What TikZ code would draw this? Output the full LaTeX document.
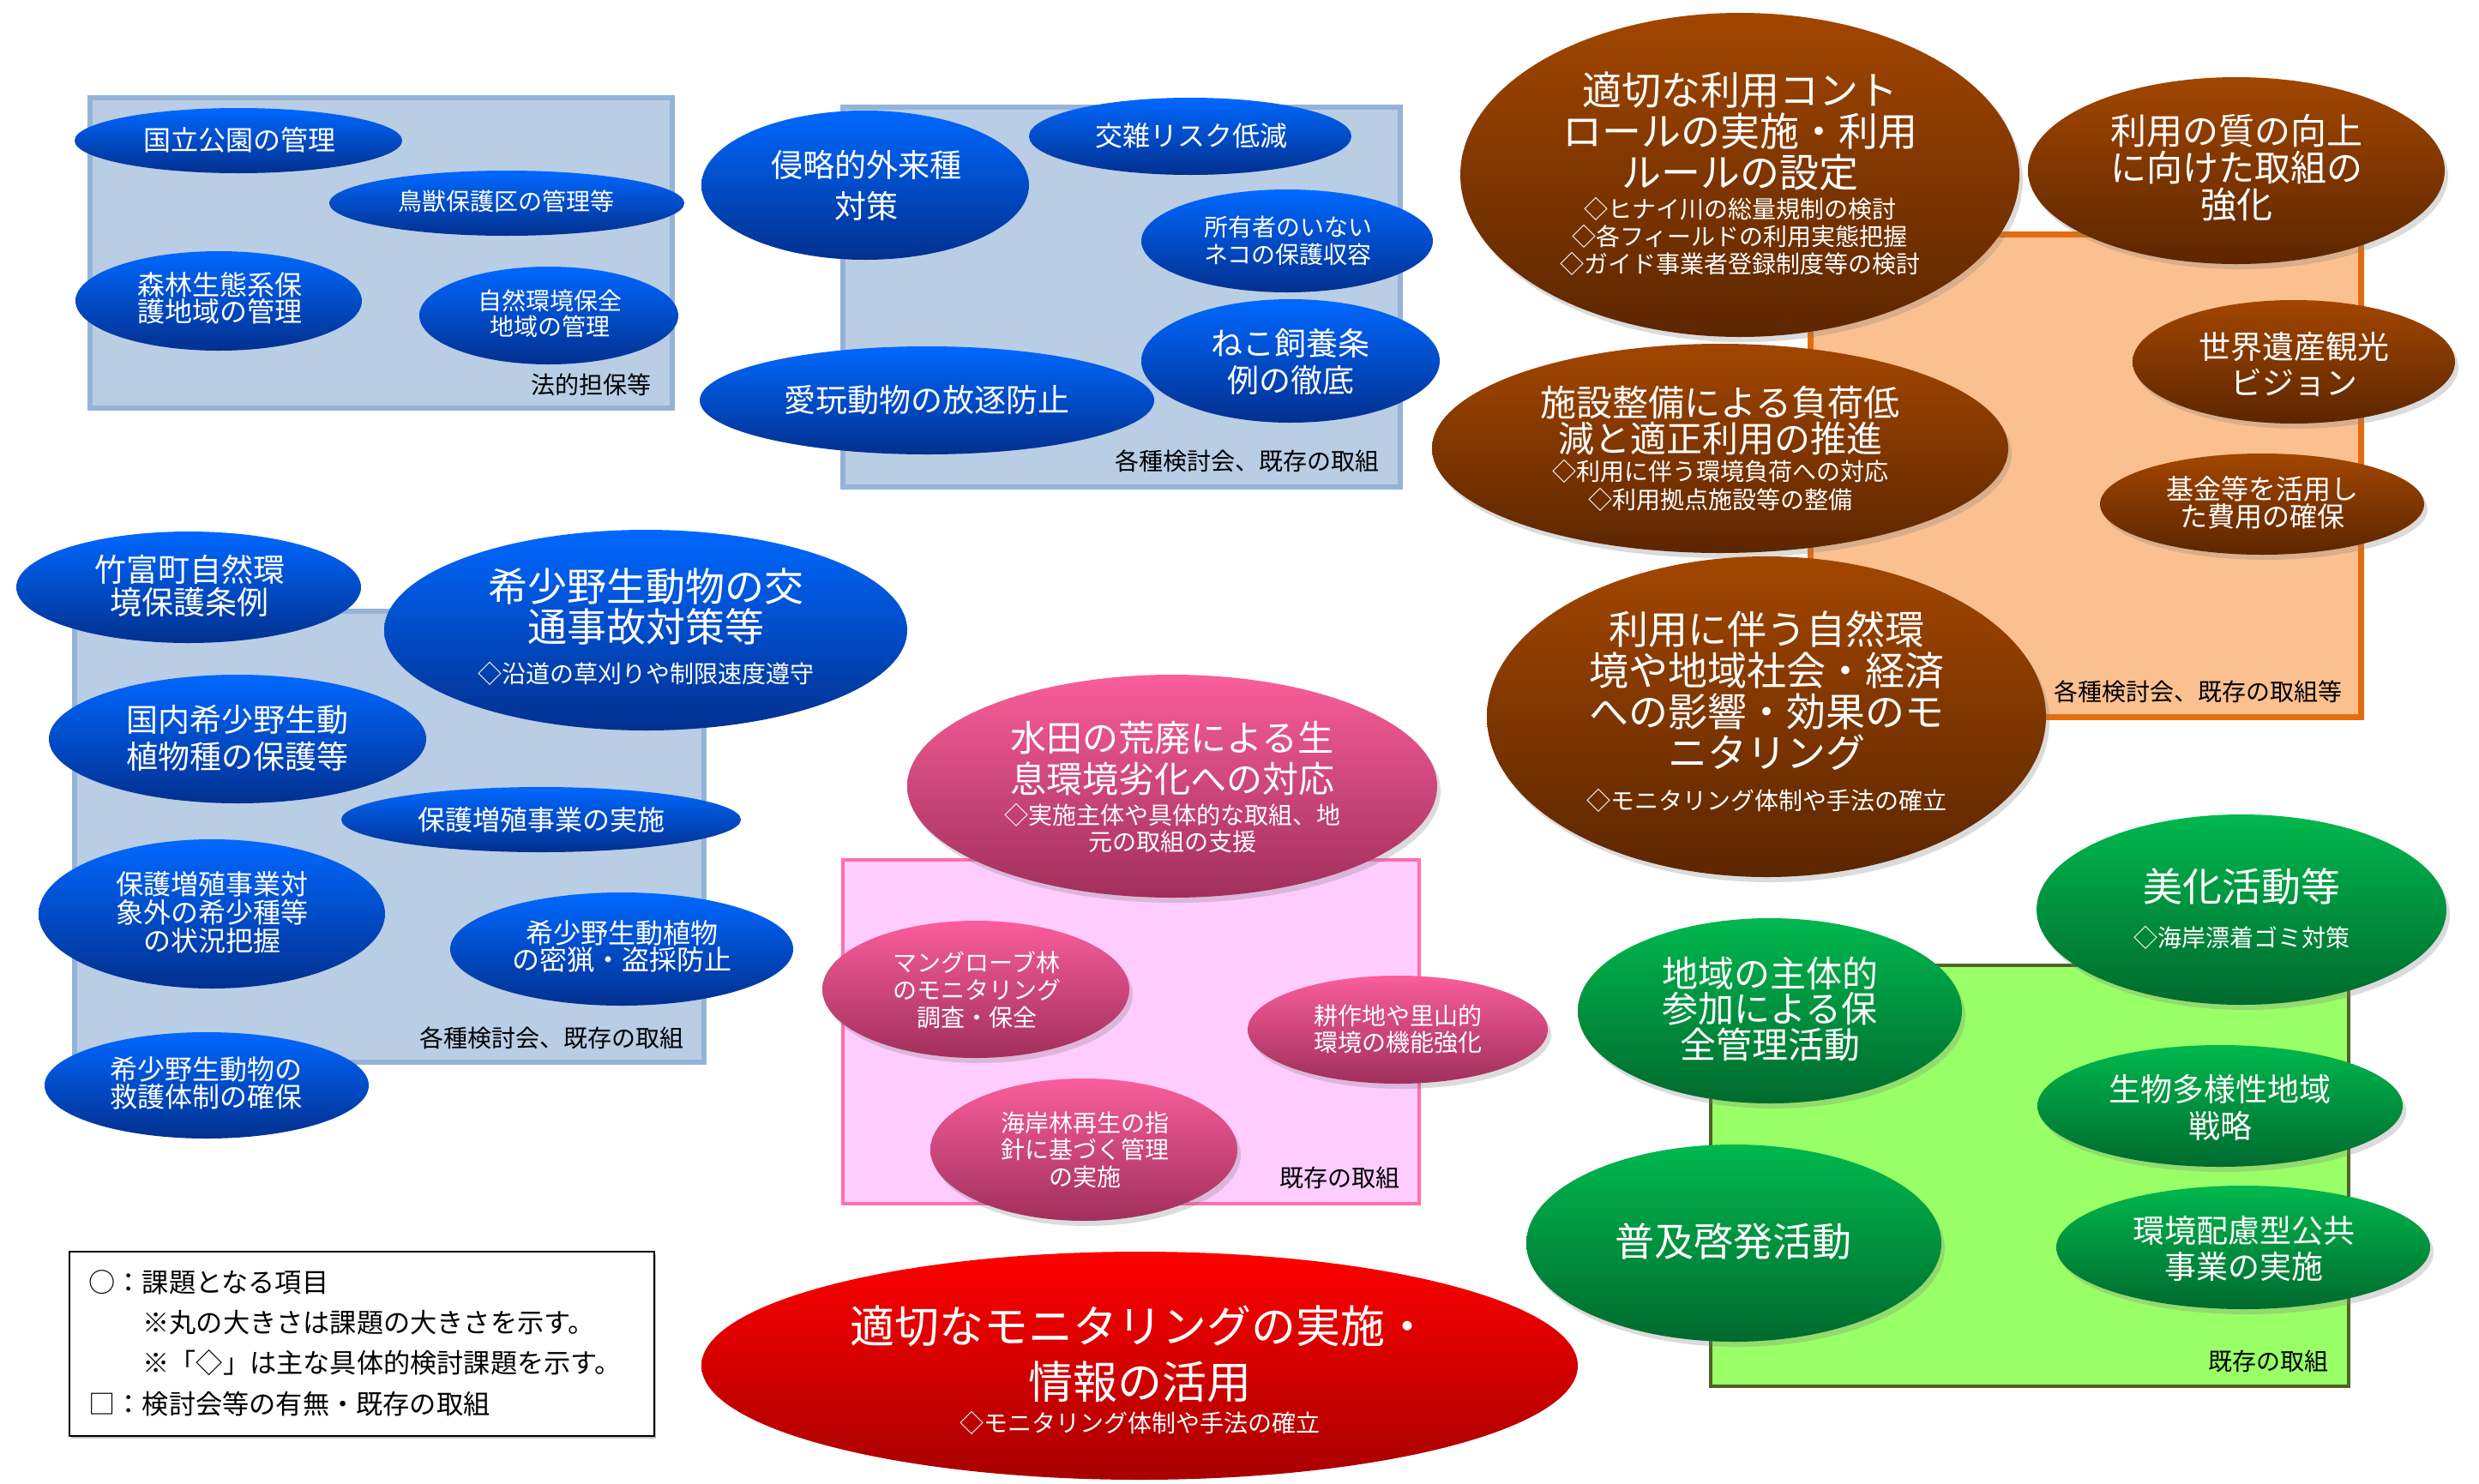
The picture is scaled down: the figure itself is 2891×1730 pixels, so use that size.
\documentclass[tikz,border=0pt]{standalone}
\usepackage{fontspec}
\setmainfont{Noto Sans CJK JP}
\usetikzlibrary{shapes.geometric,shadows}
\definecolor{blueTop}{HTML}{0068FF}
\definecolor{blueBot}{HTML}{02308F}
\definecolor{brownTop}{HTML}{A24600}
\definecolor{brownBot}{HTML}{5C2600}
\definecolor{pinkTop}{HTML}{FA5E9A}
\definecolor{pinkBot}{HTML}{A02F5C}
\definecolor{greenTop}{HTML}{00B84E}
\definecolor{greenBot}{HTML}{006A2E}
\definecolor{redTop}{HTML}{FF0000}
\definecolor{redBot}{HTML}{A80000}
\definecolor{bxBlue}{HTML}{B9CDE5}
\definecolor{bxBlueL}{HTML}{95B3D7}
\definecolor{bxOrange}{HTML}{FAC090}
\definecolor{bxOrangeL}{HTML}{E46C0A}
\definecolor{bxPink}{HTML}{FFCCFF}
\definecolor{bxPinkL}{HTML}{FF6FA8}
\definecolor{bxGreen}{HTML}{99FF66}
\definecolor{bxGreenL}{HTML}{4F6228}
\begin{document}
\begin{tikzpicture}[x=0.5pt,y=-0.5pt,
  ell/.style 2 args={ellipse, inner sep=0pt, minimum width=#1pt, minimum height=#2pt},
  shd/.style={drop shadow={opacity=0.28, shadow xshift=2pt, shadow yshift=-3pt}},
  blueE/.style={top color=blueTop, bottom color=blueBot},
  brownE/.style={top color=brownTop, bottom color=brownBot, shd},
  pinkE/.style={top color=pinkTop, bottom color=pinkBot, shd},
  greenE/.style={top color=greenTop, bottom color=greenBot, shd},
  redE/.style={top color=redTop, bottom color=redBot},
  wt/.style={text=white, align=center, inner sep=0pt},
  ft/.style 2 args={font=\fontsize{#1pt}{#2pt}\selectfont},
  lbl/.style={text=black, anchor=east, inner sep=0pt, font=\fontsize{14pt}{16pt}\selectfont},
  lg/.style={text=black, anchor=west, inner sep=0pt, font=\fontsize{15.6pt}{18pt}\selectfont},
  boxblue/.style={fill=bxBlue, draw=bxBlueL, line width=3pt},
  boxorange/.style={fill=bxOrange, draw=bxOrangeL, line width=3.5pt},
  boxpink/.style={fill=bxPink, draw=bxPinkL, line width=2.4pt},
  boxgreen/.style={fill=bxGreen, draw=bxGreenL, line width=2.4pt},
  legendbox/.style={fill=white, draw=black, line width=1.1pt, drop shadow={opacity=0.45, shadow xshift=1pt, shadow yshift=-1.5pt}}
]
\useasboundingbox[fill=white] (0,0) rectangle (2891,1730);

% ---------- boxes ----------
\draw[boxblue] (105,114) rectangle (784,476);
\draw[boxblue] (983,125) rectangle (1633,568);
\draw[boxorange] (2111,273) rectangle (2753,836);
\draw[boxblue] (87,713) rectangle (821,1239);
\draw[boxpink] (983,1003) rectangle (1655,1404);
\draw[boxgreen] (1995,1126) rectangle (2739,1617);
\draw[legendbox] (81,1460) rectangle (763,1675);

% ---------- box labels ----------
\node[lbl] (lA) at (760,449) {法的担保等};
\node[lbl] (lB) at (1609,538) {各種検討会、既存の取組};
\node[lbl] (lC) at (2732,807) {各種検討会、既存の取組等};
\node[lbl] (lD) at (798,1211) {各種検討会、既存の取組};
\node[lbl] (lE) at (1633,1374) {既存の取組};
\node[lbl] (lF) at (2716,1588) {既存の取組};

% ---------- group A (blue, top left) ----------
\node[ell={191}{38}, blueE] (nA1) at (278,164) {};
\node[wt, ft={16}{16}] (tA1) at (279,163) {国立公園の管理};
\node[ell={207}{38}, blueE] (nA2) at (591,237) {};
\node[wt, ft={14}{16}] (tA2) at (590,235) {鳥獣保護区の管理等};
\node[ell={167}{58}, blueE] (nA3) at (255,351) {};
\node[wt, ft={16}{15.5}] (tA3) at (256,348) {森林生態系保\\護地域の管理};
\node[ell={151}{57}, blueE] (nA4) at (640,368) {};
\node[wt, ft={14}{15}] (tA4) at (641,366) {自然環境保全\\地域の管理};

% ---------- group B (blue, top middle) ----------
\node[ell={191}{87}, blueE] (nB1) at (1009,216) {};
\node[wt, ft={18.5}{24}] (tB1) at (1010,216) {侵略的外来種\\対策};
\node[ell={188}{45}, blueE] (nB2) at (1388,159) {};
\node[wt, ft={16}{16}] (tB2) at (1389,158) {交雑リスク低減};
\node[ell={170}{60}, blueE] (nB3) at (1501,281) {};
\node[wt, ft={14}{16}] (tB3) at (1502,281) {所有者のいない\\ネコの保護収容};
\node[ell={174}{72}, blueE] (nB4) at (1505,421) {};
\node[wt, ft={18.5}{21.5}] (tB4) at (1505,422) {ねこ飼養条\\例の徹底};
\node[ell={265}{63}, blueE] (nB5) at (1081,467) {};
\node[wt, ft={18.5}{20}] (tB5) at (1081,467) {愛玩動物の放逐防止};

% ---------- group C (brown, top right) ----------
\node[ell={326}{189}, brownE] (nC1) at (2029,204) {};
\node[wt, ft={23}{24}] (tC1) at (2029,153) {適切な利用コント\\ロールの実施・利用\\ルールの設定};
\node[wt, ft={14}{16}] (sC1) at (2029,276) {◇ヒナイ川の総量規制の検討\\◇各フィールドの利用実態把握\\◇ガイド事業者登録制度等の検討};
\node[ell={243}{109}, brownE] (nC2) at (2608,199) {};
\node[wt, ft={21}{21.5}] (tC2) at (2608,196) {利用の質の向上\\に向けた取組の\\強化};
\node[ell={188}{72}, brownE] (nC3) at (2675,422) {};
\node[wt, ft={18.5}{21}] (tC3) at (2675,425) {世界遺産観光\\ビジョン};
\node[ell={336}{122}, brownE] (nC4) at (2006,523) {};
\node[wt, ft={21}{21}] (tC4) at (2006,491) {施設整備による負荷低\\減と適正利用の推進};
\node[wt, ft={14}{16.5}] (sC4) at (2006,566) {◇利用に伴う環境負荷への対応\\◇利用拠点施設等の整備};
\node[ell={189}{59}, brownE] (nC5) at (2638,588) {};
\node[wt, ft={16}{16}] (tC5) at (2638,586) {基金等を活用し\\た費用の確保};
\node[ell={326}{187}, brownE] (nC6) at (2060,836) {};
\node[wt, ft={23}{24}] (tC6) at (2060,806) {利用に伴う自然環\\境や地域社会・経済\\への影響・効果のモ\\ニタリング};
\node[wt, ft={14}{16}] (sC6) at (2060,934) {◇モニタリング体制や手法の確立};

% ---------- group D (blue, middle left) ----------
\node[ell={201}{65}, blueE] (nD1) at (220,685) {};
\node[wt, ft={18.5}{19}] (tD1) at (221,683) {竹富町自然環\\境保護条例};
\node[ell={305}{117}, blueE] (nD2) at (753,735) {};
\node[wt, ft={23}{23.5}] (tD2) at (753,708) {希少野生動物の交\\通事故対策等};
\node[wt, ft={14}{16}] (sD2) at (753,786) {◇沿道の草刈りや制限速度遵守};
\node[ell={220}{75}, blueE] (nD3) at (277,862) {};
\node[wt, ft={18.5}{21.5}] (tD3) at (277,861) {国内希少野生動\\植物種の保護等};
\node[ell={233}{38}, blueE] (nD4) at (631,956) {};
\node[wt, ft={16}{16}] (tD4) at (631,956) {保護増殖事業の実施};
\node[ell={202}{87}, blueE] (nD5) at (247,1066) {};
\node[wt, ft={16}{16.5}] (tD5) at (247,1064) {保護増殖事業対\\象外の希少種等\\の状況把握};
\node[ell={200}{66}, blueE] (nD6) at (725,1107) {};
\node[wt, ft={16}{15.5}] (tD6) at (725,1104) {希少野生動植物\\の密猟・盗採防止};
\node[ell={189}{62}, blueE] (nD7) at (241,1266) {};
\node[wt, ft={16}{16}] (tD7) at (240,1263) {希少野生動物の\\救護体制の確保};

% ---------- group E (pink, middle) ----------
\node[ell={309}{130}, pinkE] (nE1) at (1367,917) {};
\node[wt, ft={21}{24}] (tE1) at (1367,885) {水田の荒廃による生\\息環境劣化への対応};
\node[wt, ft={14}{15.5}] (sE1) at (1367,966) {◇実施主体や具体的な取組、地\\元の取組の支援};
\node[ell={179}{80}, pinkE] (nE2) at (1138,1154) {};
\node[wt, ft={14}{16}] (tE2) at (1139,1155) {マングローブ林\\のモニタリング\\調査・保全};
\node[ell={175}{63}, pinkE] (nE3) at (1630,1201) {};
\node[wt, ft={14}{15.5}] (tE3) at (1630,1200) {耕作地や里山的\\環境の機能強化};
\node[ell={179}{83}, pinkE] (nE4) at (1264,1341) {};
\node[wt, ft={14}{15.75}] (tE4) at (1265,1341) {海岸林再生の指\\針に基づく管理\\の実施};

% ---------- group F (green, bottom right) ----------
\node[ell={239}{111}, greenE] (nF1) at (2614,1061) {};
\node[wt, ft={23}{24}] (tF1) at (2614,1034) {美化活動等};
\node[wt, ft={14}{16}] (sF1) at (2614,1094) {◇海岸漂着ゴミ対策};
\node[ell={224}{108}, greenE] (nF2) at (2064,1179) {};
\node[wt, ft={21}{20.75}] (tF2) at (2064,1177) {地域の主体的\\参加による保\\全管理活動};
\node[ell={213}{71}, greenE] (nF3) at (2589,1290) {};
\node[wt, ft={18.5}{21.5}] (tF3) at (2589,1292) {生物多様性地域\\戦略};
\node[ell={242}{115}, greenE] (nF4) at (2022,1450) {};
\node[wt, ft={23}{24}] (tF4) at (2021,1448) {普及啓発活動};
\node[ell={218}{72}, greenE] (nF5) at (2616,1455) {};
\node[wt, ft={18.5}{21}] (tF5) at (2617,1456) {環境配慮型公共\\事業の実施};

% ---------- red ----------
\node[ell={511}{133}, redE] (nG) at (1329,1593) {};
\node[wt, ft={26}{32.5}] (tG) at (1329,1579) {適切なモニタリングの実施・\\情報の活用};
\node[wt, ft={14}{16}] (sG) at (1329,1660) {◇モニタリング体制や手法の確立};

% ---------- legend ----------
\node[lg] (lg1) at (103,1496) {○：課題となる項目};
\node[lg] (lg2) at (166,1543) {※丸の大きさは課題の大きさを示す。};
\node[lg] (lg3) at (166,1590) {※「◇」は主な具体的検討課題を示す。};
\node[lg] (lg4) at (103,1638) {□：検討会等の有無・既存の取組};
\end{tikzpicture}
\end{document}
